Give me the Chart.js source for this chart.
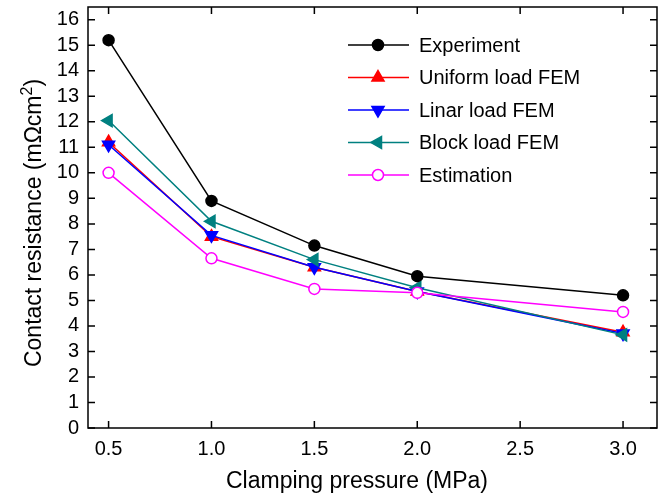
<!DOCTYPE html>
<html>
<head>
<meta charset="utf-8">
<script src="https://cdn.jsdelivr.net/npm/chart.js@4"></script>
<style>
  html, body { margin: 0; padding: 0; background: #fff; }
  #wrap { width: 658px; height: 496px; }
</style>
</head>
<body>
<div id="wrap"><canvas id="chart" width="658" height="496"></canvas></div>
<script>
// values
const pressure = [0.5, 1.0, 1.5, 2.0, 3.0]
const experiment = [15.2, 8.9, 7.15, 5.95, 5.2]
const uniformFem = [11.2, 7.5, 6.3, 5.35, 3.75]
const linarFem = [11.1, 7.55, 6.3, 5.35, 3.7]
const blockFem = [12.05, 8.1, 6.6, 5.5, 3.65]
const estimation = [10.0, 6.65, 5.45, 5.3, 4.55]
const xTicks = [0.5, 1.0, 1.5, 2.0, 2.5, 3.0]
const yTicks = [0, 1, 2, 3, 4, 5, 6, 7, 8, 9, 10, 11, 12, 13, 14, 15, 16]

const FONT = 'Liberation Sans, Arial, sans-serif'

function pts(vals) {
  return pressure.map((x, i) => ({ x: x, y: vals[i] }))
}

function series(label, vals, color, style, rot, radius, fill, order) {
  return {
    label: label,
    data: pts(vals),
    borderColor: color,
    backgroundColor: fill,
    pointBorderColor: color,
    pointBackgroundColor: fill,
    pointStyle: style,
    rotation: rot,
    pointRadius: radius,
    pointBorderWidth: 1.5,
    borderWidth: 1.5,
    tension: 0,
    order: order
  }
}

const datasets = [
  series('Experiment', experiment, '#000000', 'circle', 0, 5.5, '#000000', 0),
  series('Uniform load FEM', uniformFem, '#ff0000', 'triangle', 0, 7, '#ff0000', 4),
  series('Linar load FEM', linarFem, '#0000ff', 'triangle', 180, 7, '#0000ff', 3),
  series('Block load FEM', blockFem, '#008080', 'triangle', -90, 7, '#008080', 2),
  series('Estimation', estimation, '#ff00ff', 'circle', 0, 5.5, '#ffffff', 1)
]

// frame with inward ticks on all four sides
const framePlugin = {
  id: 'frame',
  afterDatasetsDraw(chart) {
    const ctx = chart.ctx
    const a = chart.chartArea
    const xs = chart.scales.x
    const ys = chart.scales.y
    ctx.save()
    ctx.strokeStyle = '#000'
    ctx.lineWidth = 1.5
    ctx.strokeRect(a.left, a.top, a.right - a.left, a.bottom - a.top)
    ctx.beginPath()
    xTicks.forEach(v => {
      const px = xs.getPixelForValue(v)
      ctx.moveTo(px, a.bottom); ctx.lineTo(px, a.bottom - 7)
      ctx.moveTo(px, a.top); ctx.lineTo(px, a.top + 7)
    })
    yTicks.forEach(v => {
      const py = ys.getPixelForValue(v)
      ctx.moveTo(a.left, py); ctx.lineTo(a.left + 7, py)
      ctx.moveTo(a.right, py); ctx.lineTo(a.right - 7, py)
    })
    ctx.stroke()
    ctx.restore()
  }
}

// legend inside the plot and the two axis titles
const textPlugin = {
  id: 'texts',
  afterDraw(chart) {
    const ctx = chart.ctx
    ctx.save()
    ctx.font = '20px ' + FONT
    ctx.textBaseline = 'middle'
    datasets.forEach((ds, i) => {
      const y = 45 + i * 32.5
      ctx.strokeStyle = ds.borderColor
      ctx.lineWidth = 1.5
      ctx.beginPath()
      ctx.moveTo(348, y); ctx.lineTo(409, y)
      ctx.stroke()
      ctx.fillStyle = ds.pointBackgroundColor
      Chart.helpers.drawPoint(ctx, {
        pointStyle: ds.pointStyle,
        rotation: ds.rotation,
        radius: ds.pointRadius,
        borderWidth: 1.5
      }, 378, y)
      ctx.fillStyle = '#000'
      ctx.fillText(ds.label, 419, y + 1)
    })

    // x title
    ctx.font = '23px ' + FONT
    ctx.textAlign = 'center'
    ctx.textBaseline = 'alphabetic'
    ctx.fillText('Clamping pressure (MPa)', 357, 488)

    // y title with a raised 2
    const main = 'Contact resistance (mΩcm'
    const sup = '2'
    const tail = ')'
    ctx.font = '23px ' + FONT
    const w1 = ctx.measureText(main).width
    const w3 = ctx.measureText(tail).width
    ctx.font = '16px ' + FONT
    const w2 = ctx.measureText(sup).width
    const total = w1 + w2 + w3
    ctx.translate(41, 223)
    ctx.rotate(-Math.PI / 2)
    ctx.textAlign = 'left'
    let x = -total / 2
    ctx.font = '23px ' + FONT
    ctx.fillText(main, x, 0)
    x += w1
    ctx.font = '16px ' + FONT
    ctx.fillText(sup, x, -9)
    x += w2
    ctx.font = '23px ' + FONT
    ctx.fillText(tail, x, 0)
    ctx.restore()
  }
}

new Chart(document.getElementById('chart').getContext('2d'), {
  type: 'line',
  data: { datasets: datasets },
  plugins: [framePlugin, textPlugin],
  options: {
    responsive: false,
    animation: false,
    layout: { autoPadding: false, padding: { top: 7, right: 1, left: 0, bottom: 0 } },
    plugins: { legend: { display: false }, tooltip: { enabled: false } },
    scales: {
      x: {
        type: 'linear',
        min: 0.4,
        max: 3.165,
        afterBuildTicks: s => { s.ticks = xTicks.map(v => ({ value: v })) },
        afterFit: s => { s.height = 68; s.paddingLeft = 0; s.paddingRight = 0 },
        grid: { display: false, drawTicks: false },
        border: { display: false },
        ticks: {
          autoSkip: false,
          maxRotation: 0,
          padding: 9,
          color: '#000',
          font: { family: FONT, size: 20 },
          callback: v => Number(v).toFixed(1)
        }
      },
      y: {
        min: 0,
        max: 16.5,
        afterBuildTicks: s => { s.ticks = yTicks.map(v => ({ value: v })) },
        afterFit: s => { s.width = 88; s.paddingTop = 0; s.paddingBottom = 0 },
        grid: { display: false, drawTicks: false },
        border: { display: false },
        ticks: {
          autoSkip: false,
          padding: 9,
          color: '#000',
          font: { family: FONT, size: 20 },
          callback: v => String(v)
        }
      }
    }
  }
})
</script>
</body>
</html>
